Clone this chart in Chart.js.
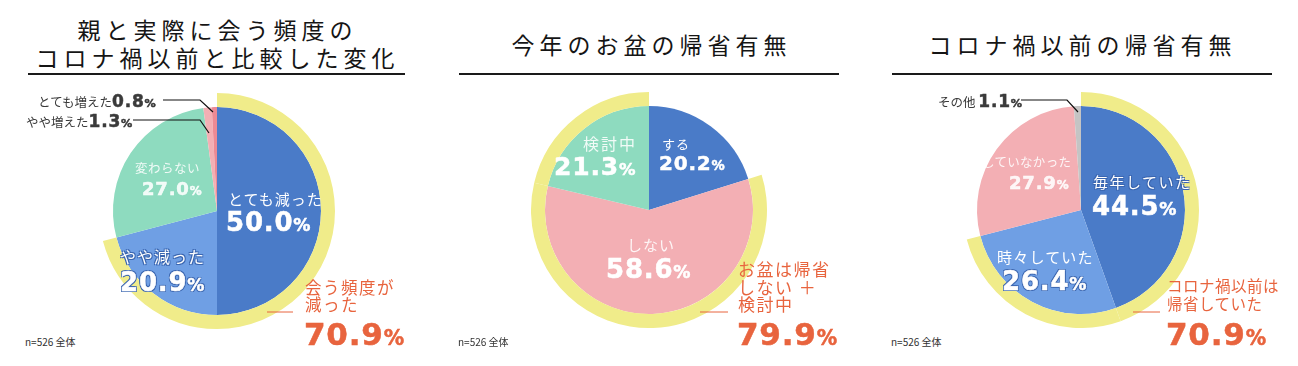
<!DOCTYPE html>
<html><head><meta charset="utf-8">
<script src="https://cdn.jsdelivr.net/npm/chart.js@4.4.0/dist/chart.umd.min.js"></script>
<style>
html,body{margin:0;padding:0;background:#fff;}
#stage{position:relative;width:1298px;height:366px;overflow:hidden;background:#fff;font-family:"Noto Sans CJK JP",sans-serif;}
.t{position:absolute;white-space:nowrap;line-height:1;}
.title{position:absolute;white-space:nowrap;line-height:1;font-size:23px;letter-spacing:5px;color:#151515;font-weight:400;text-align:center;}
.rule{position:absolute;height:2px;background:#1a1a1a;}
.pie{position:absolute;width:236px;height:236px;}
.num{font-family:"DejaVu Sans",sans-serif;font-weight:bold;letter-spacing:0.8px;-webkit-text-stroke:0.5px currentColor;}
.pct{font-size:0.66em;}
.note{position:absolute;font-size:10px;color:#333;line-height:1;white-space:nowrap;}
svg{position:absolute;left:0;top:0;}
</style></head><body><div id="stage"></div>
<script>
// ---- data ----
const titles1 = ['親と実際に会う頻度の', 'コロナ禍以前と比較した変化'];
const titles2 = ['今年のお盆の帰省有無'];
const titles3 = ['コロナ禍以前の帰省有無'];

const cats1 = ['とても減った', 'やや減った', '変わらない', 'やや増えた', 'とても増えた'];
const vals1 = [50.0, 20.9, 27.0, 1.3, 0.8];
const highlight1 = [0, 1];
const summary1 = ['会う頻度が', '減った'];

const cats2 = ['する', 'しない', '検討中'];
const vals2 = [20.2, 58.6, 21.3];
const highlight2 = [1, 2];
const summary2 = ['お盆は帰省', 'しない ＋', '検討中'];

const cats3 = ['毎年していた', '時々していた', 'していなかった', 'その他'];
const vals3 = [44.5, 26.4, 27.9, 1.1];
const highlight3 = [0, 1];
const summary3 = ['コロナ禍以前は', '帰省していた'];

const sampleNote = 'n=526 全体';

// ---- styles ----
const DARK = '#4a7bc8', LIGHT = '#6f9fe4', MINT = '#8edbbf', PINK = '#f3afb4', DPINK = '#ec8a94', GRAY = '#c4c4c4';
const YELLOW = '#f0ec8a', ORANGE = '#e8643e';
const colors1 = [DARK, LIGHT, MINT, PINK, DPINK];
const colors2 = [DARK, PINK, MINT];
const colors3 = [DARK, LIGHT, PINK, GRAY];

const stage = document.getElementById('stage');

function el(tag, cls, style, html){
  const e = document.createElement(tag);
  if (cls) e.className = cls;
  Object.assign(e.style, style || {});
  if (html !== undefined) e.innerHTML = html;
  stage.appendChild(e);
  return e;
}
function pctHTML(v){ return v.toFixed(1) + '<span class="pct">%</span>'; }

function makePie(cx, cy, values, colors, highlight, cats){
  const wrap = el('div', 'pie', {left:(cx-118)+'px', top:(cy-118)+'px'});
  const c = document.createElement('canvas');
  c.width = 236; c.height = 236;
  wrap.appendChild(c);
  new Chart(c, {
    type: 'doughnut',
    data: {
      labels: cats,
      datasets: [
        {data: values, backgroundColor: values.map((v,i)=> highlight.includes(i) ? YELLOW : 'rgba(0,0,0,0)'),
         weight: 14, borderWidth: 0, hoverOffset: 0},
        {data: values, backgroundColor: colors, weight: 104, borderWidth: 0, hoverOffset: 0}
      ]
    },
    options: {
      responsive: false, animation: false, cutout: 0, rotation: 0,
      layout: {padding: 0}, events: [],
      plugins: {legend: {display: false}, tooltip: {enabled: false}}
    }
  });
}

function title(lines, cx, ys){
  lines.forEach((s, i) => {
    el('div', 'title', {left:(cx-250)+'px', width:'500px', top:(ys[i]-12)+'px', paddingLeft:'5px', boxSizing:'border-box'}, s);
  });
}
function rule(x1, x2){ el('div', 'rule', {left:x1+'px', width:(x2-x1)+'px', top:'73px'}); }

function lab(html, x, y, size, extra, isNum){
  const s = Object.assign({left:x+'px', top:(y - size*0.55)+'px', fontSize:size+'px', color:'#fff'}, extra || {});
  return el('div', 't' + (isNum ? ' num' : ''), s, html);
}

const OUT_DARK = {textShadow:'-1px -1px 0 #3b66b0, 1px -1px 0 #3b66b0, -1px 1px 0 #3b66b0, 1px 1px 0 #3b66b0'};
const PALE = {color:'rgba(255,255,255,0.88)'};

// ---- panel 1 ----
title(titles1, 215, [30, 58]);
rule(28, 405);
makePie(217, 211, vals1, colors1, highlight1, cats1);
lab(cats1[2], 135, 169, 12.5, Object.assign({letterSpacing:'0.5px'}, PALE));
lab(pctHTML(vals1[2]), 142, 190, 18, PALE, true);
lab(cats1[0], 228, 199, 15, {letterSpacing:'1px'});
lab(pctHTML(vals1[0]), 226, 223, 26, {}, true);
lab(cats1[1], 120, 257, 16, Object.assign({letterSpacing:'1px'}, OUT_DARK));
lab(pctHTML(vals1[1]), 120, 283, 26, OUT_DARK, true);
lab(cats1[4] + '<span class="num" style="font-size:17px">' + pctHTML(vals1[4]) + '</span>', 38, 100, 12.5, {color:'#3a3a3a'});
lab(cats1[3] + '<span class="num" style="font-size:17px">' + pctHTML(vals1[3]) + '</span>', 26, 120, 12.5, {color:'#3a3a3a'});
lab(summary1[0], 305, 288, 16.5, {color:ORANGE, letterSpacing:'1.5px'});
lab(summary1[1], 305, 305, 16.5, {color:ORANGE, letterSpacing:'1.5px'});
lab(pctHTML(highlight1.reduce((a,i)=>a+vals1[i],0)), 304, 336, 31, {color:ORANGE}, true);
el('div', 'note', {left:'25px', top:'337px'}, sampleNote);

// ---- panel 2 ----
title(titles2, 649, [45]);
rule(459, 839);
makePie(649, 210, vals2, colors2, highlight2, cats2);
lab(cats2[2], 583, 144, 16, Object.assign({letterSpacing:'2px'}, PALE));
lab(pctHTML(vals2[2]), 554, 168, 25, {}, true);
lab(cats2[0], 662, 144, 13, {letterSpacing:'1px'});
lab(pctHTML(vals2[0]), 659, 164, 20, {}, true);
lab(cats2[1], 627, 245, 15, Object.assign({letterSpacing:'1px'}, PALE));
lab(pctHTML(vals2[1]), 606, 270, 26, {}, true);
lab(summary2[0], 738, 269, 17, {color:ORANGE, letterSpacing:'1.5px'});
lab(summary2[1], 738, 287, 17, {color:ORANGE, letterSpacing:'1.5px'});
lab(summary2[2], 738, 304, 17, {color:ORANGE, letterSpacing:'1.5px'});
lab(pctHTML(highlight2.reduce((a,i)=>a+vals2[i],0)), 737, 336, 31, {color:ORANGE}, true);
el('div', 'note', {left:'458px', top:'337px'}, sampleNote);

// ---- panel 3 ----
title(titles3, 1080, [45]);
rule(892, 1272);
makePie(1081, 210, vals3, colors3, highlight3, cats3);
lab(cats3[2], 982, 163, 12.5, Object.assign({letterSpacing:'0.3px'}, PALE));
lab(pctHTML(vals3[2]), 1009, 184, 18, PALE, true);
lab(cats3[0], 1093, 182, 15, Object.assign({letterSpacing:'1.5px'}, OUT_DARK));
lab(pctHTML(vals3[0]), 1092, 207, 26, {}, true);
lab(cats3[1], 997, 257, 15, {letterSpacing:'1.2px'});
lab(pctHTML(vals3[1]), 1002, 282, 26, OUT_DARK, true);
lab(cats3[3] + ' <span class="num" style="font-size:17px">' + pctHTML(vals3[3]) + '</span>', 938, 100, 12.5, {color:'#3a3a3a'});
lab(summary3[0], 1167, 287, 15.5, {color:ORANGE, letterSpacing:'0.5px'});
lab(summary3[1], 1167, 305, 15.5, {color:ORANGE, letterSpacing:'0.5px'});
lab(pctHTML(highlight3.reduce((a,i)=>a+vals3[i],0)), 1166, 336, 31, {color:ORANGE}, true);
el('div', 'note', {left:'891px', top:'337px'}, sampleNote);

// ---- leader lines ----
const svgNS = 'http://www.w3.org/2000/svg';
const svg = document.createElementNS(svgNS, 'svg');
svg.setAttribute('width', 1298); svg.setAttribute('height', 366);
function pl(points, color, w){
  const p = document.createElementNS(svgNS, 'polyline');
  p.setAttribute('points', points); p.setAttribute('fill', 'none');
  p.setAttribute('stroke', color); p.setAttribute('stroke-width', w);
  svg.appendChild(p);
}
pl('163,100 200,100 213,112', '#111', 1.2);
pl('133,120 200,120 209,133', '#111', 1.2);
pl('1021,100 1067,100 1078,112', '#111', 1.2);
pl('267,312 293,312', ORANGE, 1);
pl('700,312 728,312', ORANGE, 1);
pl('1133,312 1160,312', ORANGE, 1);
stage.appendChild(svg);
</script>
</body></html>
